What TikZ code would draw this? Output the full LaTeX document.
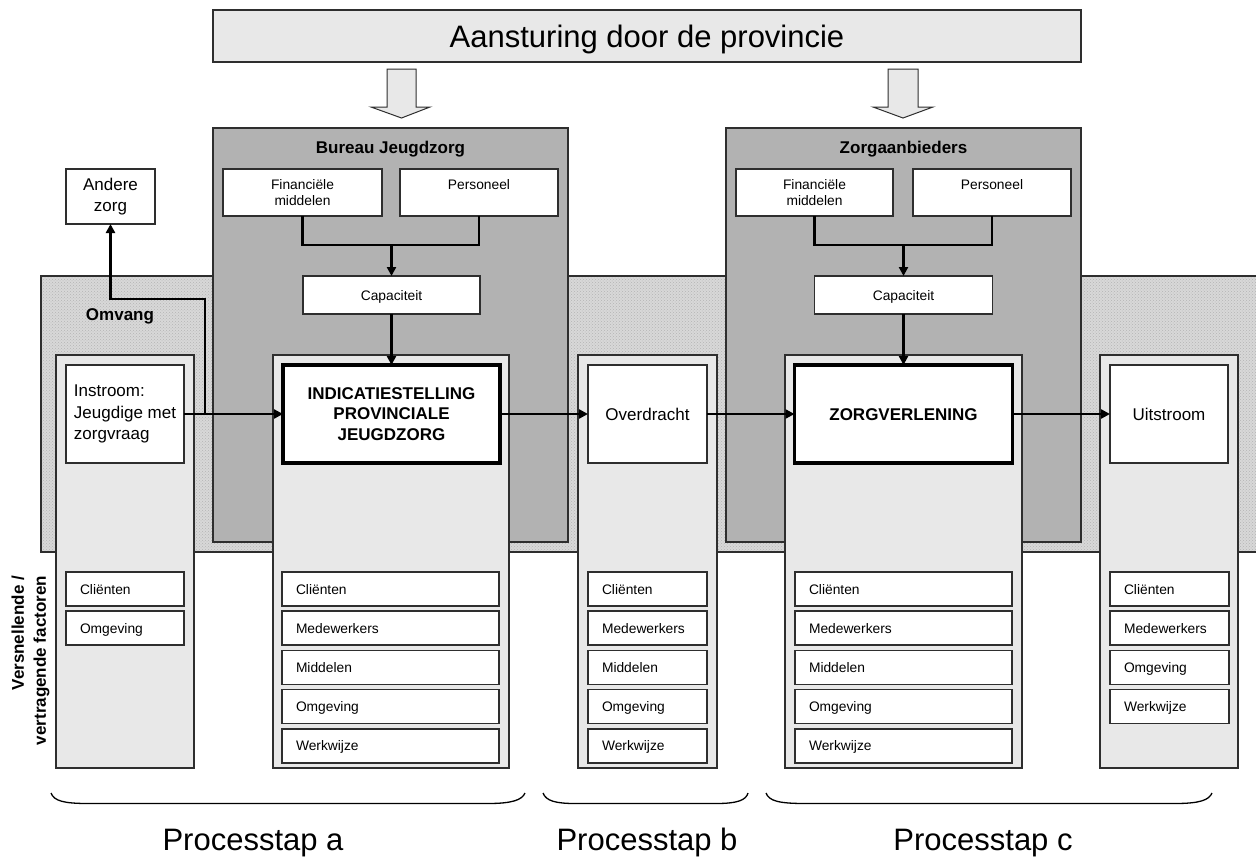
\documentclass[tikz,border=0pt]{standalone}
\usepackage{fontspec}
\setmainfont{Liberation Sans}
\usetikzlibrary{arrows.meta,patterns}
\definecolor{lightfill}{HTML}{E8E8E8}
\definecolor{midgray}{HTML}{B2B2B2}
\definecolor{omvfill}{HTML}{D8D8D8}
\definecolor{omvdot}{HTML}{B4B4B4}
\definecolor{edge}{HTML}{2E2E2E}
\begin{document}
\begin{tikzpicture}[x=1pt,y=-1pt,
  every node/.style={inner sep=0pt,outer sep=0pt},
  fs/.style={font=\fontsize{13.8}{16.7}\selectfont},
  fm/.style={font=\fontsize{17}{21.5}\selectfont},
  fmb/.style={font=\bfseries\fontsize{17}{20.7}\selectfont},
  fbig/.style={font=\fontsize{31}{36}\selectfont},
  sz/.style 2 args={minimum width=#1,minimum height=#2},
  wbox/.style={draw=edge,fill=white,line width=1.3pt},
  fbox/.style={draw=edge,fill=white,line width=1.6pt,minimum height=34pt,inner xsep=14pt,align=left,fs,text height=10pt,text depth=0pt},
  colbox/.style={draw=edge,fill=lightfill,line width=1.3pt},
  graybox/.style={draw=edge,fill=midgray,line width=1.3pt},
  thickbox/.style={draw=black,fill=white,line width=3.6pt},
  conn/.style={draw=black,line width=2.3pt},
  arr/.style={conn,-{Triangle[length=9pt,width=9pt]}},
  blockarrow/.style={draw=edge,fill=lightfill,line width=1pt},
  bracepath/.style={draw=black,line width=1.3pt},
]
\useasboundingbox (0,0) rectangle (1256,857);

% Omvang background
\fill[omvfill] (41,276) rectangle (1256,552);
\fill[pattern=crosshatch dots,pattern color=omvdot] (41,276) rectangle (1256,552);
\draw[edge,line width=1.2pt] (1256,276) -- (41,276) -- (41,552) -- (1256,552);
\node[fmb,anchor=base] (omvang) at (120,320) {Omvang};

% top bar
\node[draw=edge,fill=lightfill,line width=1.3pt,sz={868pt}{52pt},fbig,text height=22.2pt,text depth=0pt] (top) at (647,36) {Aansturing door de provincie};
\draw[blockarrow] (387,69) -- (416,69) -- (416,107) -- (430,107) -- (401.5,118) -- (371,107) -- (387,107) -- cycle;
\draw[blockarrow] (888,69) -- (918,69) -- (918,107) -- (933,107) -- (903,118) -- (873,107) -- (888,107) -- cycle;

% organisation boxes
\node[graybox,sz={355pt}{414pt}] (bj) at (390.5,335) {};
\node[graybox,sz={355pt}{414pt}] (za) at (903.5,335) {};
\node[fmb,anchor=base] (bjt) at (390.5,153.5) {Bureau Jeugdzorg};
\node[fmb,anchor=base] (zat) at (903.5,153) {Zorgaanbieders};

\node[wbox,sz={159pt}{47pt},fs,align=center] (fin1) at (302.5,192.5) {Financiële\\middelen};
\node[wbox,sz={158pt}{47pt},fs,align=center] (pers1) at (479,192.5) {Personeel\\~};
\node[wbox,sz={177pt}{38pt},fs,text height=10pt,text depth=0pt] (cap1) at (391.5,295) {Capaciteit};
\node[wbox,sz={157pt}{47pt},fs,align=center] (fin2) at (814.5,192.5) {Financiële\\middelen};
\node[wbox,sz={158pt}{47pt},fs,align=center] (pers2) at (992,192.5) {Personeel\\~};
\node[wbox,sz={178pt}{38pt},fs,text height=10pt,text depth=0pt] (cap2) at (903.5,295) {Capaciteit};

% Andere zorg
\node[wbox,sz={89pt}{55pt},fm,align=center] (andere) at (110.5,196.5) {Andere\\zorg};

% process columns
\node[colbox,sz={138pt}{413pt}] (colA1) at (125,561.5) {};
\node[colbox,sz={236pt}{413pt}] (colA2) at (391,561.5) {};
\node[colbox,sz={139pt}{413pt}] (colB) at (647.5,561.5) {};
\node[colbox,sz={237pt}{413pt}] (colC) at (903.5,561.5) {};
\node[colbox,sz={138pt}{413pt}] (colD) at (1169,561.5) {};

\node[wbox,sz={118pt}{98pt},fm,align=left] (instroom) at (125,414) {Instroom:\\Jeugdige met\\zorgvraag};
\node[thickbox,sz={217pt}{98pt},fmb,align=center] (ind) at (391.5,414) {INDICATIESTELLING\\PROVINCIALE\\JEUGDZORG};
\node[wbox,sz={119pt}{98pt},fm,text height=12.2pt,text depth=0pt] (over) at (647.5,414) {Overdracht};
\node[thickbox,sz={218pt}{98pt},fmb,text height=12.2pt,text depth=0pt] (zorg) at (903.5,414) {ZORGVERLENING};
\node[wbox,sz={118pt}{98pt},fm,text height=12.2pt,text depth=0pt] (uit) at (1169,414) {Uitstroom};

% factor boxes
\foreach \t [count=\i] in {Cliënten,Omgeving}
  \node[fbox,text width=90pt] (fi\i) at (125,{589+39.2*(\i-1)}) {\t};
\foreach \t [count=\i] in {Cliënten,Medewerkers,Middelen,Omgeving,Werkwijze}
  \node[fbox,text width=189pt] (fa\i) at (390.5,{589+39.2*(\i-1)}) {\t};
\foreach \t [count=\i] in {Cliënten,Medewerkers,Middelen,Omgeving,Werkwijze}
  \node[fbox,text width=91pt] (fb\i) at (647.5,{589+39.2*(\i-1)}) {\t};
\foreach \t [count=\i] in {Cliënten,Medewerkers,Middelen,Omgeving,Werkwijze}
  \node[fbox,text width=189pt] (fc\i) at (903.5,{589+39.2*(\i-1)}) {\t};
\foreach \t [count=\i] in {Cliënten,Medewerkers,Omgeving,Werkwijze}
  \node[fbox,text width=91pt] (fd\i) at (1169.5,{589+39.2*(\i-1)}) {\t};

% side label
\node[font=\bfseries\fontsize{17}{22}\selectfont,rotate=90,anchor=east,align=right] (vf) at (30.5,576) {Versnellende /\\vertragende factoren};

% connectors
\coordinate (j1) at (391.5,245);
\coordinate (j2) at (903.5,245);
\draw[conn] (fin1.south) |- (j1) -| (pers1.south);
\draw[arr] (j1) -- (cap1.north);
\draw[arr] (cap1.south) -- (ind.north);
\draw[conn] (fin2.south) |- (j2) -| (pers2.south);
\draw[arr] (j2) -- (cap2.north);
\draw[arr] (cap2.south) -- (zorg.north);

\coordinate (j0) at (205,414);
\coordinate (k0) at (205,299);
\draw[arr] (instroom.east) -- (ind.west);
\draw[arr] (j0) -- (k0) -| (andere.south);
\draw[arr] (ind.east) -- (over.west);
\draw[arr] (over.east) -- (zorg.west);
\draw[arr] (zorg.east) -- (uit.west);

% braces
\draw[bracepath] (51,793) .. controls (54,801) and (64,803.5) .. (88,803.5) -- (488,803.5) .. controls (512,803.5) and (522,800) .. (525,793);
\draw[bracepath] (543,793) .. controls (546,801) and (556,803.5) .. (575,803.5) -- (716,803.5) .. controls (738,803.5) and (746,800) .. (748,793);
\draw[bracepath] (766,793) .. controls (769,801) and (779,803.5) .. (805,803.5) -- (1175,803.5) .. controls (1200,803.5) and (1209,800) .. (1212,793);

\node[fbig,anchor=base] (pa) at (253,850) {Processtap a};
\node[fbig,anchor=base] (pb) at (647,850) {Processtap b};
\node[fbig,anchor=base] (pc) at (983,850) {Processtap c};
\end{tikzpicture}
\end{document}
